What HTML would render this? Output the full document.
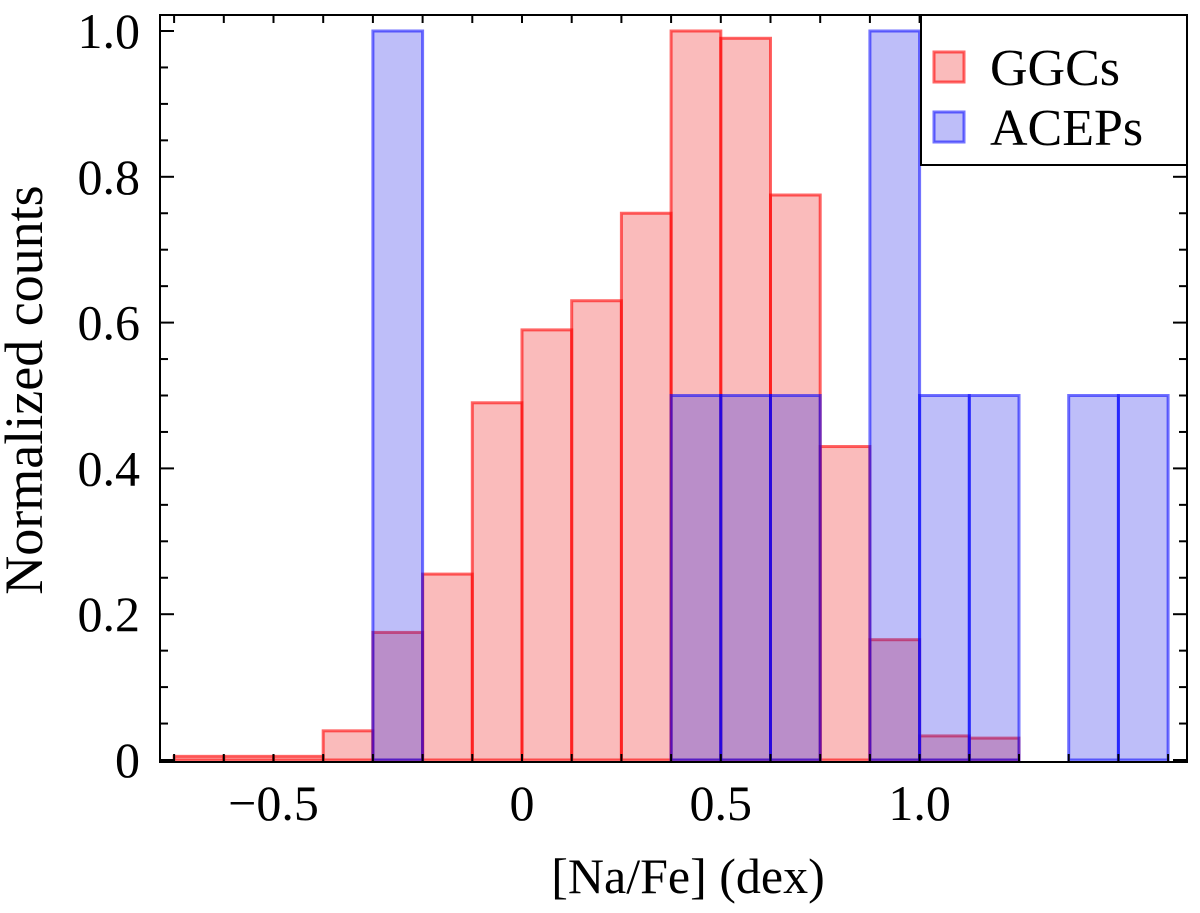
<!DOCTYPE html>
<html><head><meta charset="utf-8"><style>
body{margin:0;background:#fff}
svg text{font-family:"Liberation Serif",serif;fill:#000}
</style></head><body>
<svg id="c" width="1200" height="908" xmlns="http://www.w3.org/2000/svg"></svg>
<script>
const binStarts=[-0.7,-0.6,-0.5,-0.4,-0.3,-0.2,-0.1,0,0.1,0.2,0.3,0.4,0.5,0.6,0.7,0.8,0.9];
const ggcValues=[0.005,0.005,0.005,0.04,0.175,0.255,0.49,0.59,0.63,0.75,1.0,0.99,0.775,0.43,0.165,0.033,0.03];
const acepStarts=[-0.3,0.3,0.4,0.5,0.7,0.8,0.9,1.1,1.2];
const acepValues=[1.0,0.5,0.5,0.5,1.0,0.5,0.5,0.5,0.5];
const xTickLabels=["\u22120.5","0","0.5","1.0"];
const xTickValues=[-0.5,0,0.4,0.8];
const yTickValues=[0,0.2,0.4,0.6,0.8,1.0];
const yTickLabels=["0","0.2","0.4","0.6","0.8","1.0"];
const binW=0.1;
const L=160,R=1187,T=15,B=762;
const X=v=>522+v*497;
const Y=v=>760-v*729;
const svg=document.getElementById('c');
const NS='http://www.w3.org/2000/svg';
function mk(tag,attrs,parent){const e=document.createElementNS(NS,tag);for(const k in attrs)e.setAttribute(k,attrs[k]);(parent||svg).appendChild(e);return e;}
const gR=mk('g',{});


binStarts.forEach((s,i)=>{const r=mk('rect',{x:X(s),y:Y(ggcValues[i]),width:X(s+binW)-X(s),height:Y(0)-Y(ggcValues[i]),fill:'rgba(240,60,60,0.35)',stroke:'rgba(255,0,0,0.6)','stroke-width':3},gR);

});
const gB=mk('g',{});


acepStarts.forEach((s,i)=>{const r=mk('rect',{x:X(s),y:Y(acepValues[i]),width:X(s+binW)-X(s),height:Y(0)-Y(acepValues[i]),fill:'rgba(40,40,235,0.3)',stroke:'rgba(0,0,255,0.55)','stroke-width':3},gB);

});
const fr=mk('rect',{x:L,y:T,width:R-L,height:B-T,fill:'none',stroke:'#000','stroke-width':2});


for(let v=-0.7;v<=1.31;v+=0.1){const x=X(v);mk('line',{x1:x,x2:x,y1:B,y2:B-8,stroke:'#000','stroke-width':2});mk('line',{x1:x,x2:x,y1:T,y2:T+8,stroke:'#000','stroke-width':2});}
for(let i=0;i<=20;i++){const v=i*0.05,y=Y(v),len=(i%4===0)?14:8;mk('line',{x1:L,x2:L+len,y1:y,y2:y,stroke:'#000','stroke-width':2});mk('line',{x1:R,x2:R-len,y1:y,y2:y,stroke:'#000','stroke-width':2});}
yTickValues.forEach((v,i)=>{const t=mk('text',{x:140,y:Y(v)+17,'text-anchor':'end','font-size':50});t.textContent=yTickLabels[i];

});
xTickValues.forEach((v,i)=>{const t=mk('text',{x:X(v),y:820,'text-anchor':'middle','font-size':50});t.textContent=xTickLabels[i];

});
const xt=mk('text',{x:688,y:893,'text-anchor':'middle','font-size':50});xt.textContent='[Na/Fe] (dex)';


const yt=mk('text',{x:0,y:0,'text-anchor':'middle','font-size':54,transform:'translate(42,390) rotate(-90)'});yt.textContent='Normalized counts';


const lg=mk('g',{});


mk('rect',{x:921,y:15,width:266,height:150,fill:'#fff',stroke:'#000','stroke-width':2},lg);
const e1=mk('g',{},lg);


mk('rect',{x:934,y:52,width:30,height:30,fill:'rgba(240,60,60,0.35)',stroke:'rgba(255,0,0,0.6)','stroke-width':3},e1);
const t1=mk('text',{x:990,y:85,'font-size':52},e1);t1.textContent='GGCs';
const e2=mk('g',{},lg);


mk('rect',{x:934,y:112,width:30,height:30,fill:'rgba(40,40,235,0.3)',stroke:'rgba(0,0,255,0.55)','stroke-width':3},e2);
const t2=mk('text',{x:990,y:145,'font-size':52},e2);t2.textContent='ACEPs';
</script>
</body></html>
